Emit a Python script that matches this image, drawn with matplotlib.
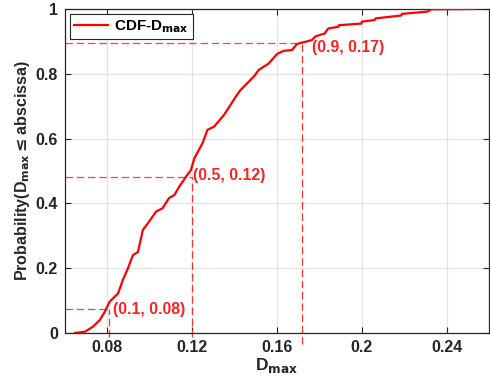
import matplotlib
matplotlib.use('Agg')
import matplotlib.pyplot as plt

# empirical CDF of D_max (points along the curve)
dmax = [0.0647, 0.0694, 0.0733, 0.0764, 0.0788, 0.0811, 0.0850, 0.0873, 0.0897,
        0.0920, 0.0944, 0.0967, 0.0990, 0.1030, 0.1060, 0.1090, 0.1116, 0.1139,
        0.1160, 0.1170, 0.1194, 0.1210, 0.1248, 0.1272, 0.1303, 0.1350, 0.1405,
        0.1428, 0.1490, 0.1514, 0.1561, 0.1600, 0.1631, 0.1670, 0.1694, 0.1717,
        0.1764, 0.1770, 0.1780, 0.1827, 0.1830, 0.1842, 0.1889, 0.1892, 0.1998,
        0.2000, 0.2061, 0.2065, 0.2186, 0.2190, 0.2311, 0.2327, 0.2530]
cdf = [0.000, 0.004, 0.020, 0.040, 0.066, 0.097, 0.122, 0.164, 0.200,
       0.240, 0.250, 0.318, 0.338, 0.375, 0.385, 0.416, 0.426, 0.452,
       0.472, 0.482, 0.503, 0.539, 0.585, 0.627, 0.637, 0.673, 0.729,
       0.750, 0.791, 0.812, 0.832, 0.861, 0.871, 0.873, 0.892, 0.896,
       0.904, 0.908, 0.915, 0.925, 0.930, 0.940, 0.945, 0.950, 0.955,
       0.961, 0.966, 0.971, 0.980, 0.985, 0.992, 0.999, 1.000]

# quantiles marked on the curve
probs = [0.1, 0.5, 0.9]
q_x = [0.0809, 0.1200, 0.1720]
q_y = [0.074, 0.480, 0.895]

xticks = [0.08, 0.12, 0.16, 0.2, 0.24]
yticks = [0, 0.2, 0.4, 0.6, 0.8, 1]

plt.rcParams['font.family'] = ['Liberation Sans', 'DejaVu Sans']
plt.rcParams['font.weight'] = 'bold'
plt.rcParams['mathtext.default'] = 'bf'

fig = plt.figure(figsize=(4.9, 3.88), dpi=100)
ax = fig.add_axes([0.1327, 0.1418, 0.9980 - 0.1327, 0.9768 - 0.1418])

ax.plot(dmax, cdf, color='red', lw=1.6, label='CDF-D$_{\\mathbf{max}}$', zorder=3)

# how far the dashed drop lines run below the axis, and label nudges
line_bottom = [-0.012, -0.012, -0.034]
text_dx = [0.0019, 0.0006, 0.0045]
text_dy = [-0.003, 0.005, -0.013]

for i in range(len(probs)):
    x, y = q_x[i], q_y[i]
    ax.plot([0.06, x], [y, y], color='#ff4040', lw=0.9, ls=(0, (6, 3)), zorder=2)
    ax.plot([x, x], [line_bottom[i], y], color='#ff3030', lw=0.9, ls=(0, (6, 3)),
            zorder=2, clip_on=False)
    ax.text(x + text_dx[i], y + text_dy[i], '(%s, %.2f)' % (probs[i], x),
            color='#ff2020', fontsize=11.3, fontweight='bold', va='center',
            ha='left', zorder=4)

ax.set_xlim(0.06, 0.26)
ax.set_ylim(0, 1)
ax.set_xticks(xticks)
ax.set_xticklabels(['%g' % t for t in xticks])
ax.set_yticks(yticks)
ax.set_yticklabels(['%g' % t for t in yticks])
ax.grid(True, color='#e3e3e3', lw=0.9)
ax.set_axisbelow(True)
ax.tick_params(direction='in', length=4, width=0.8, colors='#262626',
               labelsize=11.5, top=True, right=True, pad=5)
for s in ax.spines.values():
    s.set_color('#262626')
    s.set_linewidth(0.9)

ax.set_xlabel('D$_{\\mathbf{max}}$', fontsize=12.5, fontweight='bold',
              color='#262626', labelpad=1)
ax.set_ylabel('Probability(D$_{\\mathbf{max}}$$\\leq$abscissa)', fontsize=11.5,
              fontweight='bold', color='#262626', labelpad=3)

leg = ax.legend(loc='upper left', fontsize=11, frameon=True, fancybox=False,
                edgecolor='#262626', framealpha=1, borderaxespad=0.3,
                handlelength=2.2, handletextpad=0.4, borderpad=0.3)
leg.get_frame().set_linewidth(0.8)

fig.savefig('out.png', dpi=100)
